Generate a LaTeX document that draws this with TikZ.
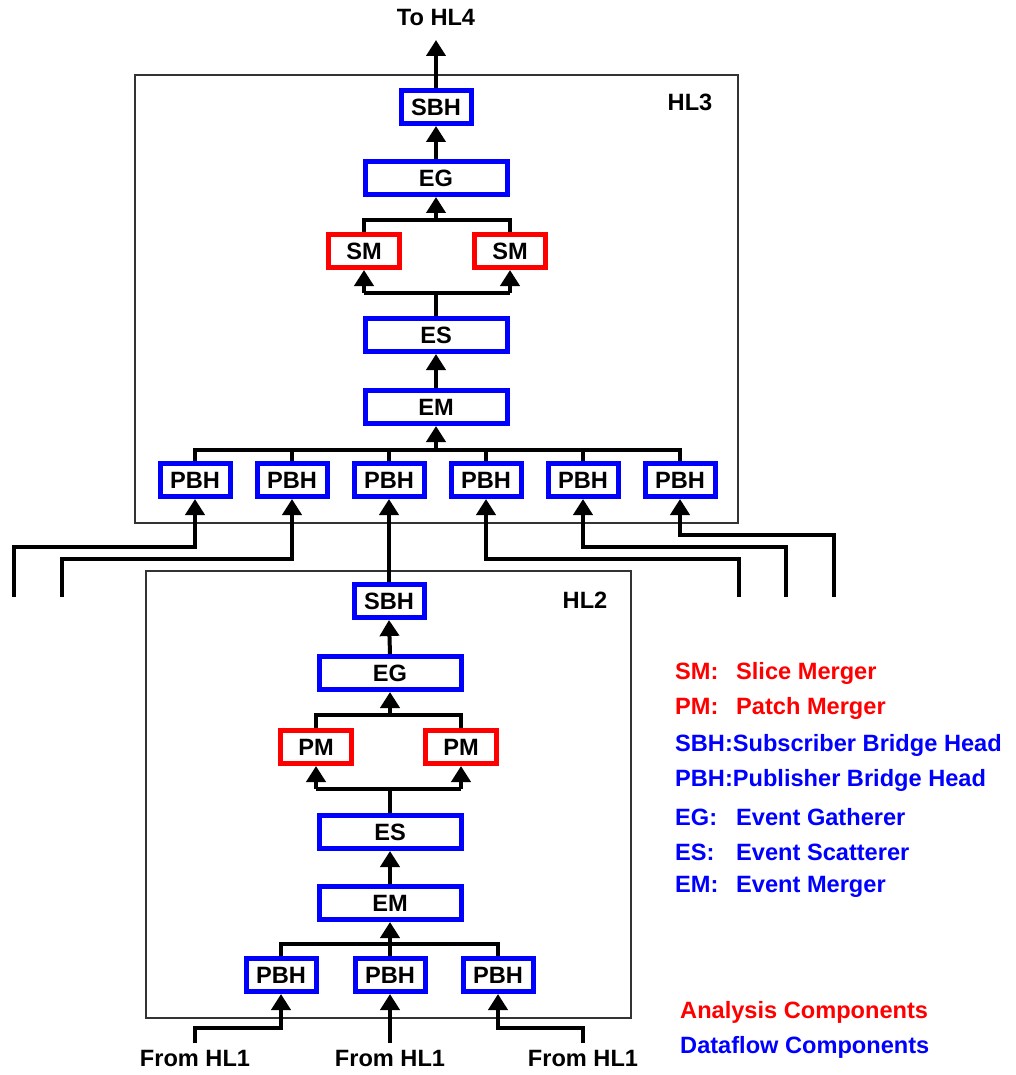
\documentclass[tikz,border=0pt]{standalone}
\usepackage{fontspec}
\newfontfamily\lsans{Liberation Sans}
\usetikzlibrary{arrows.meta}
\begin{document}
\begin{tikzpicture}[x=1pt,y=-1pt,
  lbl/.style={font=\lsans\bfseries\fontsize{23.6}{28}\selectfont},
  comp/.style={lbl,draw=blue,line width=5pt,fill=white,minimum height=33pt,inner sep=0pt},
  ana/.style={comp,draw=red},
  nar/.style={minimum width=70pt},
  wid/.style={minimum width=142pt},
  conn/.style={line width=4pt,black},
  arr/.style={conn,-{Triangle[width=19pt,length=16pt]}},
  frame/.style={draw=black!80,line width=1.5pt},
  leg/.style={lbl,anchor=west,inner sep=0pt}]
\useasboundingbox (0,0) rectangle (1016,1075);
% frames
\draw[frame] (135,75) rectangle (738,523);
\node[lbl] (hl3) at (690,102) {HL3};
\draw[frame] (146,571) rectangle (631,1018);
\node[lbl] (hl2) at (585,600) {HL2};
% HL3 nodes
\node[comp,nar] (sbh3) at (436,107) {SBH};
\node[comp,wid] (eg3) at (436,178) {EG};
\node[ana,minimum width=71pt] (sm1) at (364,251) {SM};
\node[ana,minimum width=71pt] (sm2) at (510,251) {SM};
\node[comp,wid] (es3) at (436,335) {ES};
\node[comp,wid] (em3) at (436,407) {EM};
\node[comp,nar] (p3a) at (195,480) {PBH};
\node[comp,nar] (p3b) at (292,480) {PBH};
\node[comp,nar] (p3c) at (389,480) {PBH};
\node[comp,nar] (p3d) at (486,480) {PBH};
\node[comp,nar] (p3e) at (583,480) {PBH};
\node[comp,nar] (p3f) at (680,480) {PBH};
% HL2 nodes
\node[comp,nar] (sbh2) at (389,601) {SBH};
\node[comp,wid] (eg2) at (390,673) {EG};
\node[ana,minimum width=71pt] (pm1) at (316,747) {PM};
\node[ana,minimum width=71pt] (pm2) at (461,747) {PM};
\node[comp,wid] (es2) at (390,832) {ES};
\node[comp,wid] (em2) at (390,903) {EM};
\node[comp,nar] (q1) at (281,975) {PBH};
\node[comp,nar] (q2) at (390,975) {PBH};
\node[comp,nar] (q3) at (498,975) {PBH};
% labels
\node[lbl] (tohl4) at (436,18) {To HL4};
\coordinate (top4) at (436,40);
\node[lbl] (f1) at (195,1058) {From HL1};
\node[lbl] (f2) at (390,1058) {From HL1};
\node[lbl] (f3) at (583,1058) {From HL1};
\coordinate (h1) at (195,1043);
\coordinate (h2) at (390,1043);
\coordinate (h3) at (583,1043);
% bus coordinates
\coordinate (b1) at (436,220);
\coordinate (b2) at (436,293);
\coordinate (b3) at (436,450);
\coordinate (b4) at (390,715);
\coordinate (b5) at (390,789);
\coordinate (b6) at (390,944);
\coordinate (in1) at (14,597);
\coordinate (in2) at (62,597);
\coordinate (in4) at (739,597);
\coordinate (in5) at (786,597);
\coordinate (in6) at (834,597);
% HL3 connectors
\draw[arr] (sbh3.north) -- (top4);
\draw[arr] (eg3.north) -- (sbh3.south);
\draw[conn] (sm1.north) |- (b1) -| (sm2.north);
\draw[arr] (b1) -- (eg3.south);
\draw[conn] (sm1.south |- b2) -- (sm2.south |- b2);
\draw[arr] (sm1.south |- b2) -- (sm1.south);
\draw[arr] (sm2.south |- b2) -- (sm2.south);
\draw[conn] (es3.north) -- (b2);
\draw[arr] (em3.north) -- (es3.south);
\draw[conn] (p3a.north) |- (b3) -| (p3f.north);
\foreach \p in {p3b,p3c,p3d,p3e} \draw[conn] (\p.north) -- (\p.north |- b3);
\draw[arr] (b3) -- (em3.south);
% inputs to HL3
\draw[arr] (in1) -- ++(0,-50) -| (p3a.south);
\draw[arr] (in2) -- ++(0,-38) -| (p3b.south);
\draw[arr] (sbh2.north) -- (p3c.south);
\draw[arr] (in4) -- ++(0,-38) -| (p3d.south);
\draw[arr] (in5) -- ++(0,-50) -| (p3e.south);
\draw[arr] (in6) -- ++(0,-62) -| (p3f.south);
% HL2 connectors
\draw[arr] (eg2.north) -- (sbh2.south);
\draw[conn] (pm1.north) |- (b4) -| (pm2.north);
\draw[arr] (b4) -- (eg2.south);
\draw[conn] (pm1.south |- b5) -- (pm2.south |- b5);
\draw[arr] (pm1.south |- b5) -- (pm1.south);
\draw[arr] (pm2.south |- b5) -- (pm2.south);
\draw[conn] (es2.north) -- (b5);
\draw[arr] (em2.north) -- (es2.south);
\draw[conn] (q1.north) |- (b6) -| (q3.north);
\draw[conn] (q2.north) -- (b6);
\draw[arr] (b6) -- (em2.south);
\draw[arr] (h1) -- ++(0,-15) -| (q1.south);
\draw[arr] (h2) -- (q2.south);
\draw[arr] (h3) -- ++(0,-15) -| (q3.south);
% legend
\node[leg,red] (l1) at (675,673) {\makebox[61pt][l]{SM:}Slice Merger};
\node[leg,red] (l2) at (675,708) {\makebox[61pt][l]{PM:}Patch Merger};
\node[leg,blue] (l3) at (675,745) {SBH:Subscriber Bridge Head};
\node[leg,blue] (l4) at (675,780) {PBH:Publisher Bridge Head};
\node[leg,blue] (l5) at (675,817) {\makebox[61pt][l]{EG:}Event Gatherer};
\node[leg,blue] (l6) at (675,852) {\makebox[61pt][l]{ES:}Event Scatterer};
\node[leg,blue] (l7) at (675,887) {\makebox[61pt][l]{EM:}Event Merger};
\node[leg,red] (l8) at (680,1012) {Analysis Components};
\node[leg,blue] (l9) at (680,1047) {Dataflow Components};
\end{tikzpicture}
\end{document}
